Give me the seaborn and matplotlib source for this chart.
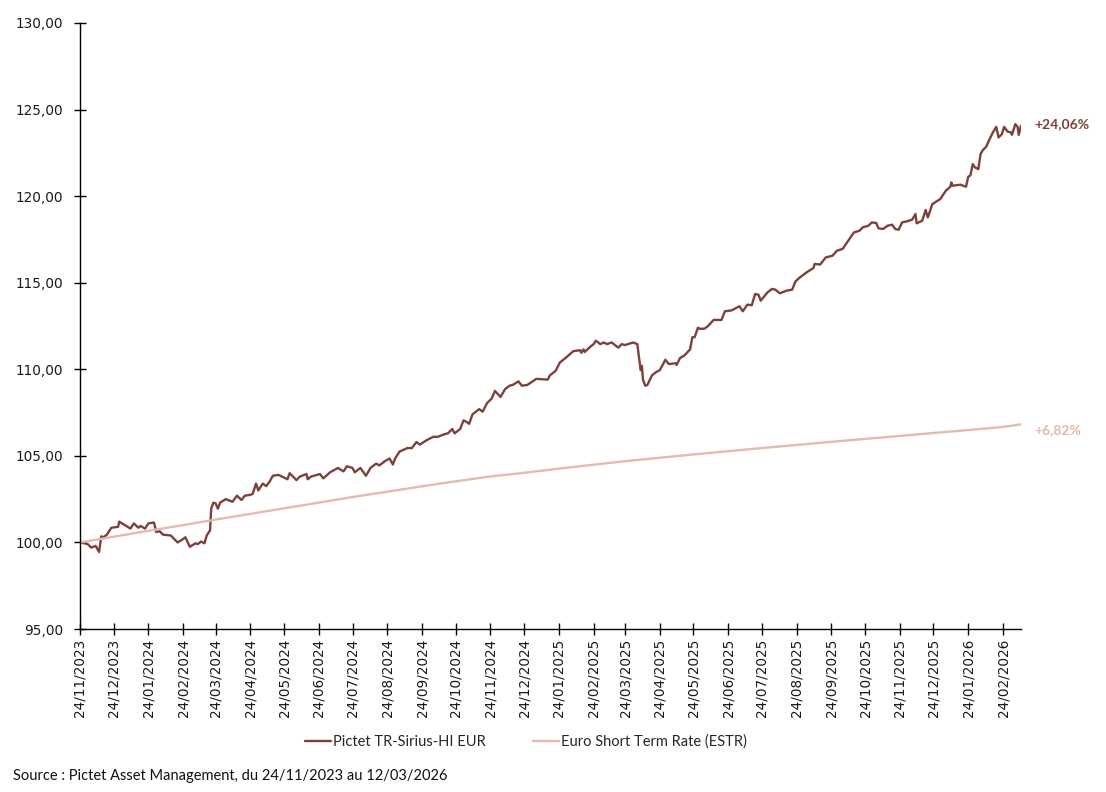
import matplotlib
matplotlib.use("Agg")
import matplotlib.pyplot as plt
import matplotlib.dates as mdates
from matplotlib.ticker import FuncFormatter
from matplotlib.lines import Line2D
import seaborn as sns
import pandas as pd

# valeurs (base 100 au 24/11/2023)
fund_name = "Pictet TR-Sirius-HI EUR"
estr_name = "Euro Short Term Rate (ESTR)"

fund_dates = [
    "2023-11-24", "2023-11-28", "2023-12-01", "2023-12-04", "2023-12-08", "2023-12-11", "2023-12-13", "2023-12-15",
    "2023-12-18", "2023-12-22", "2023-12-28", "2023-12-29", "2024-01-03", "2024-01-08", "2024-01-11", "2024-01-15",
    "2024-01-17", "2024-01-21", "2024-01-24", "2024-01-29", "2024-01-31", "2024-02-03", "2024-02-06", "2024-02-13",
    "2024-02-19", "2024-02-23", "2024-02-26", "2024-03-01", "2024-03-06", "2024-03-08", "2024-03-11", "2024-03-14",
    "2024-03-16", "2024-03-19", "2024-03-20", "2024-03-22", "2024-03-24", "2024-03-26", "2024-03-28", "2024-04-02",
    "2024-04-08", "2024-04-12", "2024-04-16", "2024-04-19", "2024-04-24", "2024-04-26", "2024-04-29", "2024-05-01",
    "2024-05-05", "2024-05-08", "2024-05-11", "2024-05-14", "2024-05-19", "2024-05-27", "2024-05-29", "2024-06-04",
    "2024-06-07", "2024-06-13", "2024-06-14", "2024-06-17", "2024-06-25", "2024-06-28", "2024-07-04", "2024-07-11",
    "2024-07-16", "2024-07-19", "2024-07-24", "2024-07-26", "2024-07-31", "2024-08-05", "2024-08-09", "2024-08-14",
    "2024-08-17", "2024-08-22", "2024-08-26", "2024-08-29", "2024-08-31", "2024-09-04", "2024-09-11", "2024-09-15",
    "2024-09-19", "2024-09-22", "2024-09-28", "2024-10-04", "2024-10-08", "2024-10-14", "2024-10-17", "2024-10-21",
    "2024-10-23", "2024-10-28", "2024-10-31", "2024-11-03", "2024-11-05", "2024-11-08", "2024-11-14", "2024-11-17",
    "2024-11-21", "2024-11-25", "2024-11-28", "2024-12-03", "2024-12-07", "2024-12-11", "2024-12-14", "2024-12-19",
    "2024-12-22", "2024-12-27", "2025-01-04", "2025-01-14", "2025-01-16", "2025-01-21", "2025-01-25", "2025-01-29",
    "2025-02-06", "2025-02-12", "2025-02-13", "2025-02-15", "2025-02-16", "2025-02-21", "2025-02-24", "2025-02-26",
    "2025-03-02", "2025-03-05", "2025-03-08", "2025-03-12", "2025-03-15", "2025-03-18", "2025-03-21", "2025-03-24",
    "2025-03-29", "2025-03-31", "2025-04-04", "2025-04-05", "2025-04-07", "2025-04-08", "2025-04-09", "2025-04-11",
    "2025-04-13", "2025-04-17", "2025-04-21", "2025-04-24", "2025-04-29", "2025-05-02", "2025-05-08", "2025-05-09",
    "2025-05-12", "2025-05-16", "2025-05-21", "2025-05-23", "2025-05-25", "2025-05-28", "2025-05-30", "2025-06-03",
    "2025-06-06", "2025-06-11", "2025-06-18", "2025-06-21", "2025-06-27", "2025-07-04", "2025-07-07", "2025-07-11",
    "2025-07-15", "2025-07-18", "2025-07-21", "2025-07-23", "2025-07-29", "2025-08-02", "2025-08-05", "2025-08-09",
    "2025-08-15", "2025-08-20", "2025-08-23", "2025-08-27", "2025-09-02", "2025-09-08", "2025-09-09", "2025-09-14",
    "2025-09-19", "2025-09-25", "2025-09-29", "2025-10-04", "2025-10-09", "2025-10-14", "2025-10-19", "2025-10-22",
    "2025-10-27", "2025-10-30", "2025-11-03", "2025-11-05", "2025-11-09", "2025-11-13", "2025-11-17", "2025-11-20",
    "2025-11-23", "2025-11-26", "2025-11-30", "2025-12-05", "2025-12-08", "2025-12-09", "2025-12-14", "2025-12-17",
    "2025-12-19", "2025-12-23", "2025-12-30", "2026-01-04", "2026-01-08", "2026-01-09", "2026-01-10", "2026-01-17",
    "2026-01-22", "2026-01-24", "2026-01-26", "2026-01-28", "2026-01-30", "2026-02-02", "2026-02-04", "2026-02-06",
    "2026-02-09", "2026-02-12", "2026-02-15", "2026-02-18", "2026-02-20", "2026-02-23", "2026-02-25", "2026-02-28",
    "2026-03-03", "2026-03-04", "2026-03-07", "2026-03-09", "2026-03-10", "2026-03-12",
]
fund_values = [
    100.00, 99.95, 99.90, 99.70, 99.80, 99.45, 100.35, 100.30,
    100.45, 100.85, 100.90, 101.20, 101.00, 100.80, 101.10, 100.85,
    100.95, 100.80, 101.10, 101.15, 100.60, 100.65, 100.45, 100.40,
    100.00, 100.15, 100.30, 99.75, 99.95, 99.90, 100.05, 99.95,
    100.40, 100.70, 101.95, 102.30, 102.25, 101.95, 102.30, 102.50,
    102.35, 102.70, 102.45, 102.70, 102.75, 102.80, 103.40, 103.00,
    103.40, 103.25, 103.50, 103.85, 103.90, 103.65, 104.00, 103.60,
    103.80, 103.95, 103.65, 103.80, 103.95, 103.70, 104.05, 104.30,
    104.10, 104.40, 104.30, 104.05, 104.30, 103.85, 104.30, 104.55,
    104.45, 104.70, 104.85, 104.50, 104.85, 105.25, 105.45, 105.45,
    105.80, 105.65, 105.90, 106.10, 106.10, 106.25, 106.30, 106.55,
    106.30, 106.55, 107.05, 106.95, 106.85, 107.40, 107.70, 107.55,
    108.05, 108.30, 108.75, 108.40, 108.85, 109.05, 109.10, 109.30,
    109.05, 109.10, 109.45, 109.40, 109.65, 109.90, 110.40, 110.60,
    111.05, 111.10, 110.95, 111.15, 111.00, 111.30, 111.45, 111.65,
    111.45, 111.55, 111.45, 111.55, 111.40, 111.25, 111.45, 111.40,
    111.50, 111.55, 111.45, 110.90, 109.95, 110.20, 109.40, 109.05,
    109.10, 109.65, 109.85, 109.95, 110.55, 110.30, 110.35, 110.25,
    110.65, 110.80, 111.15, 111.85, 111.85, 112.40, 112.33, 112.35,
    112.50, 112.85, 112.85, 113.35, 113.40, 113.64, 113.35, 113.73,
    113.70, 114.35, 114.30, 113.96, 114.44, 114.64, 114.60, 114.39,
    114.54, 114.60, 115.08, 115.31, 115.60, 115.85, 116.08, 116.05,
    116.46, 116.56, 116.85, 116.95, 117.43, 117.90, 118.00, 118.20,
    118.29, 118.48, 118.45, 118.14, 118.10, 118.29, 118.35, 118.10,
    118.06, 118.48, 118.54, 118.64, 118.97, 118.43, 118.58, 119.20,
    118.77, 119.54, 119.83, 120.31, 120.54, 120.79, 120.60, 120.66,
    120.54, 121.12, 121.20, 121.85, 121.66, 121.56, 122.43, 122.66,
    122.85, 123.29, 123.68, 124.00, 123.39, 123.58, 124.00, 123.73,
    123.68, 123.54, 124.16, 124.00, 123.54, 124.06,
]

estr_dates = [
    "2023-11-24", "2023-12-24", "2024-01-24", "2024-02-24", "2024-03-24", "2024-04-24", "2024-05-24",
    "2024-06-24", "2024-07-24", "2024-08-24", "2024-09-24", "2024-10-24", "2024-11-24", "2024-12-24",
    "2025-01-24", "2025-02-24", "2025-03-24", "2025-04-24", "2025-05-24", "2025-06-24", "2025-07-24",
    "2025-08-24", "2025-09-24", "2025-10-24", "2025-11-24", "2025-12-24", "2026-01-24", "2026-02-24",
    "2026-03-12",
]
estr_values = [
    100.00, 100.33, 100.67, 101.00, 101.32, 101.65, 101.97,
    102.30, 102.62, 102.93, 103.24, 103.53, 103.81, 104.02,
    104.26, 104.49, 104.69, 104.89, 105.08, 105.27, 105.45,
    105.63, 105.81, 105.98, 106.15, 106.32, 106.49, 106.67,
    106.82,
]

fund_perf = "+24,06%"
estr_perf = "+6,82%"
source_text = "Source : Pictet Asset Management, du 24/11/2023 au 12/03/2026"

fund_color = "#7D413A"
estr_color = "#E4B9AF"

sns.set_style("white")
plt.rcParams['font.family'] = ['DejaVu Sans']

fund = pd.DataFrame({"date": pd.to_datetime(fund_dates), "valeur": fund_values})
estr = pd.DataFrame({"date": pd.to_datetime(estr_dates), "valeur": estr_values})

fig = plt.figure(figsize=(11.06, 7.92), dpi=100)
ax = fig.add_axes([0.0723, 0.2058, 0.8508, 0.7652])

sns.lineplot(data=fund, x="date", y="valeur", ax=ax, color=fund_color, linewidth=1.7)
sns.lineplot(data=estr, x="date", y="valeur", ax=ax, color=estr_color, linewidth=1.7)

ax.set_xlim(pd.Timestamp("2023-11-24"), pd.Timestamp("2026-03-12"))
ax.set_ylim(95, 130)
ax.set_yticks(range(95, 131, 5))
ax.yaxis.set_major_formatter(FuncFormatter(lambda v, p: f"{v:.2f}".replace(".", ",")))

# un repere le 24 de chaque mois
xticks = pd.date_range("2023-11-01", "2026-02-01", freq="MS") + pd.Timedelta(days=23)
ax.set_xticks(xticks)
ax.xaxis.set_major_formatter(mdates.DateFormatter("%d/%m/%Y"))
plt.setp(ax.get_xticklabels(), rotation=90)

ax.set_xlabel("")
ax.set_ylabel("")
for s in ["top", "right"]:
    ax.spines[s].set_visible(False)
for s in ["left", "bottom"]:
    ax.spines[s].set_color("black")
    ax.spines[s].set_linewidth(1.0)
ax.tick_params(axis="both", direction="inout", length=8, width=1, color="black",
               bottom=True, left=True, labelsize=9.8, labelcolor="#1a1a1a")
ax.tick_params(axis="x", pad=3)
ax.tick_params(axis="y", pad=8)
ax.grid(False)

# etiquettes de performance en bout de courbe
ax.annotate(fund_perf, xy=(fund["date"].iloc[-1], fund_values[-1]), xytext=(10, 1),
            textcoords="offset points", va="center", ha="left", color=fund_color,
            fontsize=10, family="Lato", fontweight="bold")
ax.annotate(estr_perf, xy=(estr["date"].iloc[-1], estr_values[-1]), xytext=(10, -4),
            textcoords="offset points", va="center", ha="left", color=estr_color,
            fontsize=10, family="Lato", fontweight="bold")

handles = [Line2D([], [], color=fund_color, linewidth=1.7),
           Line2D([], [], color=estr_color, linewidth=1.7)]
fig.legend(handles, [fund_name, estr_name], loc="center", bbox_to_anchor=(526 / 1106, 1 - 742 / 792),
           ncol=2, frameon=False, prop={"family": "Lato", "size": 10.5}, handlelength=1.8,
           handletextpad=0.15, columnspacing=3.2)

fig.text(13 / 1106, 1 - 776 / 792, source_text, ha="left", va="center", fontsize=10.5,
         family="Lato", color="#111111")

fig.savefig("out.png", dpi=100)
